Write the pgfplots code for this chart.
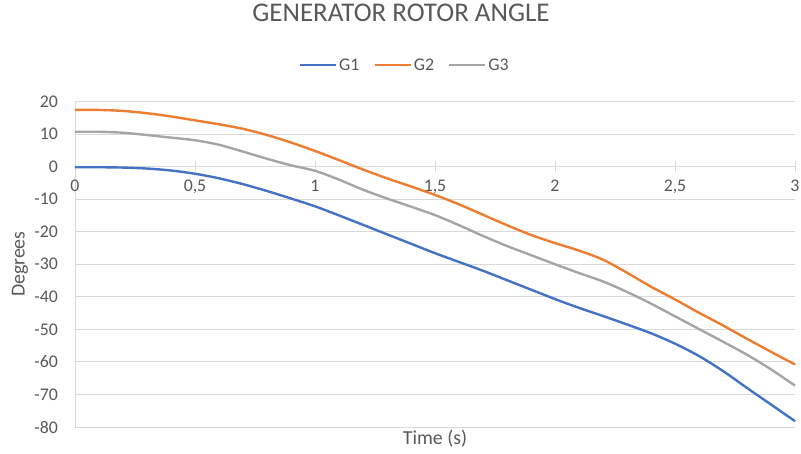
\documentclass[border=0pt]{standalone}
\usepackage{pgfplots}
\pgfplotsset{compat=1.18}
\usepackage{fontspec}
\setmainfont{Carlito}
\definecolor{cG1}{HTML}{4472C4}
\definecolor{cG2}{HTML}{ED7D31}
\definecolor{cG3}{HTML}{A5A5A5}
\definecolor{txt}{HTML}{595959}
\definecolor{gridc}{HTML}{D9D9D9}
\begin{document}
\begin{tikzpicture}
\path[use as bounding box] (-75pt,-27pt) rectangle (726pt,427pt);
\begin{axis}[
  at={(0,0)}, anchor=south west,
  scale only axis, width=720pt, height=325.5pt,
  xmin=0, xmax=3, ymin=-80, ymax=20,
  axis x line*=middle, axis y line*=left,
  axis line style={-, draw=gridc, line width=0.9pt},
  xtick={0,0.5,1,1.5,2,2.5,3},
  xticklabels={0,{0,5},1,{1,5},2,{2,5},3},
  ytick={-80,-70,-60,-50,-40,-30,-20,-10,0,10,20},
  yticklabels={-80,-70,-60,-50,-40,-30,-20,-10,0,10,20},
  ymajorgrids, grid style={draw=gridc, line width=0.9pt},
  x tick style={draw=gridc, line width=0.9pt},
  y tick style={draw=none},
  tick align=center, major tick length=11pt,
  tick label style={font=\fontsize{17.8}{21}\selectfont, text=txt},
  xticklabel style={yshift=-4pt},
  yticklabel style={xshift=-8pt},
  hide obscured x ticks=false,
  xlabel={Time (s)}, ylabel={Degrees},
  label style={font=\fontsize{19.8}{23}\selectfont, text=txt},
  xlabel style={at={(axis description cs:0.5,0)}, anchor=center, yshift=-12pt},
  ylabel style={at={(axis description cs:-0.0764,0.5)}, anchor=center},
  title={GENERATOR ROTOR ANGLE},
  title style={font=\fontsize{27}{30}\selectfont, text=txt, at={(axis description cs:0.4528,1)}, anchor=center, yshift=83pt},
  legend style={at={(axis description cs:0.458,1)}, anchor=center, yshift=36.5pt, draw=none, fill=none,
    font=\fontsize{17.8}{21}\selectfont, text=txt, legend columns=-1,
    /tikz/every even column/.append style={column sep=12pt}},
  legend image code/.code={\draw[#1] (0pt,0pt) -- (36pt,0pt);},
  every axis plot/.append style={line width=2.4pt, smooth, tension=0.5, mark=none},
  clip=false,
]
\addplot[cG1] coordinates {
(0,-0.2) (0.1,-0.2) (0.2,-0.3) (0.3,-0.6) (0.4,-1.2) (0.5,-2.2) (0.6,-3.6) (0.7,-5.4) (0.8,-7.5) (0.9,-9.8)
(1.0,-12.2) (1.1,-15.0) (1.2,-17.9) (1.3,-20.8) (1.4,-23.7) (1.5,-26.6) (1.6,-29.3) (1.7,-32.0) (1.8,-34.9) (1.9,-37.8)
(2.0,-40.7) (2.1,-43.4) (2.2,-45.9) (2.3,-48.5) (2.4,-51.2) (2.5,-54.4) (2.6,-58.2) (2.7,-62.8) (2.8,-68.0) (2.9,-73.1) (3.0,-78.2)
};
\addlegendentry{G1}
\addplot[cG2] coordinates {
(0,17.4) (0.1,17.4) (0.2,17.1) (0.3,16.4) (0.4,15.4) (0.5,14.2) (0.6,13.0) (0.7,11.6) (0.8,9.7) (0.9,7.4)
(1.0,4.8) (1.1,2.0) (1.2,-0.9) (1.3,-3.6) (1.4,-6.1) (1.5,-8.7) (1.6,-11.6) (1.7,-14.8) (1.8,-18.0) (1.9,-21.0)
(2.0,-23.5) (2.1,-25.8) (2.2,-28.6) (2.3,-32.6) (2.4,-36.9) (2.5,-40.8) (2.6,-44.9) (2.7,-48.8) (2.8,-52.9) (2.9,-56.9) (3.0,-60.8)
};
\addlegendentry{G2}
\addplot[cG3] coordinates {
(0,10.7) (0.1,10.7) (0.2,10.4) (0.3,9.7) (0.4,8.9) (0.5,8.1) (0.6,6.7) (0.7,4.6) (0.8,2.4) (0.9,0.4)
(1.0,-1.3) (1.1,-4.0) (1.2,-7.1) (1.3,-9.8) (1.4,-12.3) (1.5,-14.9) (1.6,-18.0) (1.7,-21.3) (1.8,-24.4) (1.9,-27.2)
(2.0,-30.0) (2.1,-32.7) (2.2,-35.3) (2.3,-38.5) (2.4,-42.1) (2.5,-46.0) (2.6,-49.9) (2.7,-53.8) (2.8,-57.8) (2.9,-62.3) (3.0,-67.3)
};
\addlegendentry{G3}
\end{axis}
\end{tikzpicture}
\end{document}
